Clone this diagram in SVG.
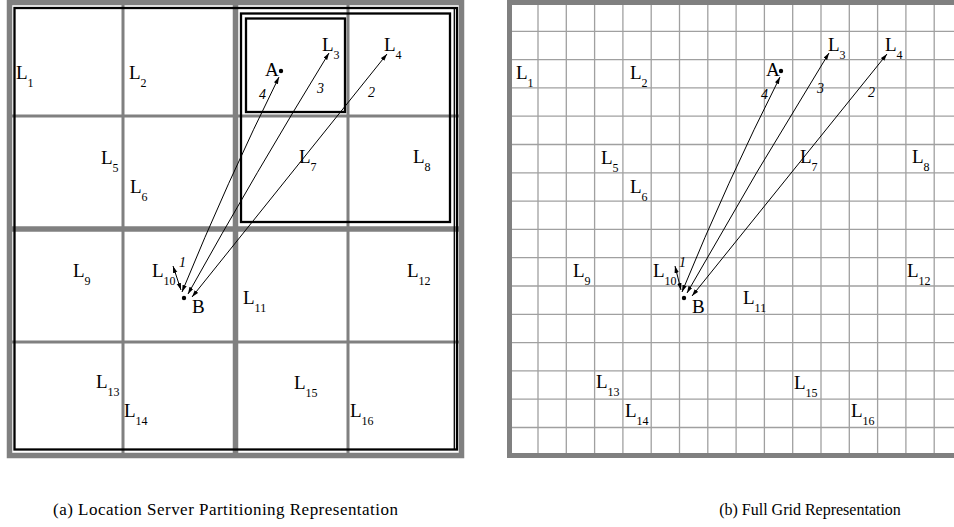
<svg xmlns="http://www.w3.org/2000/svg" width="954" height="527" viewBox="0 0 954 527">
<style>
text{font-family:"Liberation Serif","Times New Roman",serif;fill:#000}
.lb{font-size:19px}
.sb{font-size:12px}
.num{font-size:14px;font-style:italic}
.cap{font-size:16px}
.g3{stroke:#808080;stroke-width:3;fill:none}
.g5{stroke:#808080;stroke-width:5.5;fill:none}
.bk{stroke:#000;stroke-width:2.3;fill:none}
.gl{stroke:#a0a0a0;stroke-width:1.3;fill:none}
.ar{stroke:#000;stroke-width:1;fill:none;marker-start:url(#ah);marker-end:url(#ah)}
</style>
<defs>
<marker id="ah" markerUnits="userSpaceOnUse" markerWidth="8" markerHeight="6" refX="7" refY="2.2" orient="auto-start-reverse">
<path d="M0,0 L7,2.2 L0,4.4 z" fill="#000"/>
</marker>
</defs>
<rect width="954" height="527" fill="#fff"/>

<g id="panel-a-grid">
<line class="g3" x1="123" y1="3" x2="123" y2="455"/>
<line class="g3" x1="348" y1="3" x2="348" y2="455"/>
<line class="g3" x1="10" y1="116" x2="460" y2="116"/>
<line class="g3" x1="10" y1="342" x2="460" y2="342"/>
<line class="g5" x1="235.5" y1="3" x2="235.5" y2="455"/>
<line class="g5" x1="10" y1="229" x2="460" y2="229"/>
<rect class="g5" x="9.5" y="2.5" width="452" height="453" stroke-width="5"/>
</g>
<g id="server-root"><rect class="bk" x="14.5" y="8" width="442.5" height="441.5"/><line x1="454.3" y1="8" x2="454.3" y2="449.5" stroke="#000" stroke-width="1.3"/></g>
<g id="server-quadrant"><rect class="bk" x="241" y="13.5" width="209" height="208.5"/></g>
<g id="server-cell"><rect class="bk" x="246" y="18.5" width="99" height="93.5"/></g>

<g id="panel-b-grid">
<g class="gl">
<line x1="538" y1="2.5" x2="538" y2="455.5"/>
<line x1="566.3" y1="2.5" x2="566.3" y2="455.5"/>
<line x1="594.6" y1="2.5" x2="594.6" y2="455.5"/>
<line x1="622.9" y1="2.5" x2="622.9" y2="455.5"/>
<line x1="651.2" y1="2.5" x2="651.2" y2="455.5"/>
<line x1="679.5" y1="2.5" x2="679.5" y2="455.5"/>
<line x1="707.8" y1="2.5" x2="707.8" y2="455.5"/>
<line x1="736.1" y1="2.5" x2="736.1" y2="455.5"/>
<line x1="764.4" y1="2.5" x2="764.4" y2="455.5"/>
<line x1="792.7" y1="2.5" x2="792.7" y2="455.5"/>
<line x1="821" y1="2.5" x2="821" y2="455.5"/>
<line x1="849.3" y1="2.5" x2="849.3" y2="455.5"/>
<line x1="877.6" y1="2.5" x2="877.6" y2="455.5"/>
<line x1="905.9" y1="2.5" x2="905.9" y2="455.5"/>
<line x1="934.2" y1="2.5" x2="934.2" y2="455.5"/>
<line x1="509.5" y1="31.3" x2="954" y2="31.3"/>
<line x1="509.5" y1="59.6" x2="954" y2="59.6"/>
<line x1="509.5" y1="87.9" x2="954" y2="87.9"/>
<line x1="509.5" y1="116.2" x2="954" y2="116.2"/>
<line x1="509.5" y1="144.5" x2="954" y2="144.5"/>
<line x1="509.5" y1="172.8" x2="954" y2="172.8"/>
<line x1="509.5" y1="201.1" x2="954" y2="201.1"/>
<line x1="509.5" y1="229.4" x2="954" y2="229.4"/>
<line x1="509.5" y1="257.7" x2="954" y2="257.7"/>
<line x1="509.5" y1="286" x2="954" y2="286"/>
<line x1="509.5" y1="314.3" x2="954" y2="314.3"/>
<line x1="509.5" y1="342.6" x2="954" y2="342.6"/>
<line x1="509.5" y1="370.9" x2="954" y2="370.9"/>
<line x1="509.5" y1="399.2" x2="954" y2="399.2"/>
<line x1="509.5" y1="427.5" x2="954" y2="427.5"/>
</g>
<path d="M954,2.5 H509.5 V455.5 H954" stroke="#808080" stroke-width="5" fill="none"/>
</g>

<g id="connectors">
<path class="ar" d="M182,292 Q227,182 279,77"/>
<path class="ar" d="M188,294 Q256,172 329,53"/>
<path class="ar" d="M192,297 L387,54"/>
<path class="ar" d="M181,290 L173,266"/>
<path class="ar" d="M682,292 Q727,182 780,77"/>
<path class="ar" d="M687,293 Q756,171 829,53"/>
<path class="ar" d="M692,296 L887,54"/>
<path class="ar" d="M681,290 L675,266"/>
</g>

<g id="a-L1"><text class="lb" x="16" y="79">L<tspan class="sb" dy="7.5">1</tspan></text></g>
<g id="a-L2"><text class="lb" x="129" y="79">L<tspan class="sb" dy="7.5">2</tspan></text></g>
<g id="a-L3"><text class="lb" x="322" y="51">L<tspan class="sb" dy="7.5">3</tspan></text></g>
<g id="a-L4"><text class="lb" x="384" y="51">L<tspan class="sb" dy="7.5">4</tspan></text></g>
<g id="a-L5"><text class="lb" x="101" y="164">L<tspan class="sb" dy="7.5">5</tspan></text></g>
<g id="a-L6"><text class="lb" x="130" y="193">L<tspan class="sb" dy="7.5">6</tspan></text></g>
<g id="a-L7"><text class="lb" x="299" y="163">L<tspan class="sb" dy="7.5">7</tspan></text></g>
<g id="a-L8"><text class="lb" x="413" y="163">L<tspan class="sb" dy="7.5">8</tspan></text></g>
<g id="a-L9"><text class="lb" x="73" y="277">L<tspan class="sb" dy="7.5">9</tspan></text></g>
<g id="a-L10"><text class="lb" x="152" y="277">L<tspan class="sb" dy="7.5">10</tspan></text></g>
<g id="a-L11"><text class="lb" x="243" y="304">L<tspan class="sb" dy="7.5">11</tspan></text></g>
<g id="a-L12"><text class="lb" x="407" y="277">L<tspan class="sb" dy="7.5">12</tspan></text></g>
<g id="a-L13"><text class="lb" x="96" y="388">L<tspan class="sb" dy="7.5">13</tspan></text></g>
<g id="a-L14"><text class="lb" x="124" y="417">L<tspan class="sb" dy="7.5">14</tspan></text></g>
<g id="a-L15"><text class="lb" x="294" y="389">L<tspan class="sb" dy="7.5">15</tspan></text></g>
<g id="a-L16"><text class="lb" x="350" y="417">L<tspan class="sb" dy="7.5">16</tspan></text></g>
<g id="a-A"><text class="lb" x="265" y="76">A</text><circle cx="281" cy="71" r="2.2"/></g>
<g id="a-B"><circle cx="184" cy="298" r="2.2"/><text class="lb" x="192" y="313">B</text></g>
<g id="a-nums"><text class="num" x="259" y="99">4</text><text class="num" x="317" y="93">3</text><text class="num" x="368" y="97">2</text><text class="num" x="179" y="267">1</text></g>

<g id="b-L1"><text class="lb" x="516" y="79">L<tspan class="sb" dy="7.5">1</tspan></text></g>
<g id="b-L2"><text class="lb" x="630" y="79">L<tspan class="sb" dy="7.5">2</tspan></text></g>
<g id="b-L3"><text class="lb" x="828" y="51">L<tspan class="sb" dy="7.5">3</tspan></text></g>
<g id="b-L4"><text class="lb" x="885" y="51">L<tspan class="sb" dy="7.5">4</tspan></text></g>
<g id="b-L5"><text class="lb" x="601" y="164">L<tspan class="sb" dy="7.5">5</tspan></text></g>
<g id="b-L6"><text class="lb" x="630" y="193">L<tspan class="sb" dy="7.5">6</tspan></text></g>
<g id="b-L7"><text class="lb" x="800" y="163">L<tspan class="sb" dy="7.5">7</tspan></text></g>
<g id="b-L8"><text class="lb" x="912" y="163">L<tspan class="sb" dy="7.5">8</tspan></text></g>
<g id="b-L9"><text class="lb" x="573" y="277">L<tspan class="sb" dy="7.5">9</tspan></text></g>
<g id="b-L10"><text class="lb" x="653" y="277">L<tspan class="sb" dy="7.5">10</tspan></text></g>
<g id="b-L11"><text class="lb" x="743" y="304">L<tspan class="sb" dy="7.5">11</tspan></text></g>
<g id="b-L12"><text class="lb" x="907" y="277">L<tspan class="sb" dy="7.5">12</tspan></text></g>
<g id="b-L13"><text class="lb" x="596" y="388">L<tspan class="sb" dy="7.5">13</tspan></text></g>
<g id="b-L14"><text class="lb" x="625" y="417">L<tspan class="sb" dy="7.5">14</tspan></text></g>
<g id="b-L15"><text class="lb" x="794" y="389">L<tspan class="sb" dy="7.5">15</tspan></text></g>
<g id="b-L16"><text class="lb" x="851" y="417">L<tspan class="sb" dy="7.5">16</tspan></text></g>
<g id="b-A"><text class="lb" x="766" y="76">A</text><circle cx="781" cy="71" r="2.2"/></g>
<g id="b-B"><circle cx="684" cy="298" r="2.2"/><text class="lb" x="692" y="313">B</text></g>
<g id="b-nums"><text class="num" x="761" y="99">4</text><text class="num" x="817" y="93">3</text><text class="num" x="868" y="97">2</text><text class="num" x="679" y="267">1</text></g>

<g id="captions">
<text class="cap" x="53" y="515" font-size="17" style="font-size:17px" textLength="345" lengthAdjust="spacing">(a) Location Server Partitioning Representation</text>
<text class="cap" x="810" y="515" text-anchor="middle">(b) Full Grid Representation</text>
</g>
</svg>
